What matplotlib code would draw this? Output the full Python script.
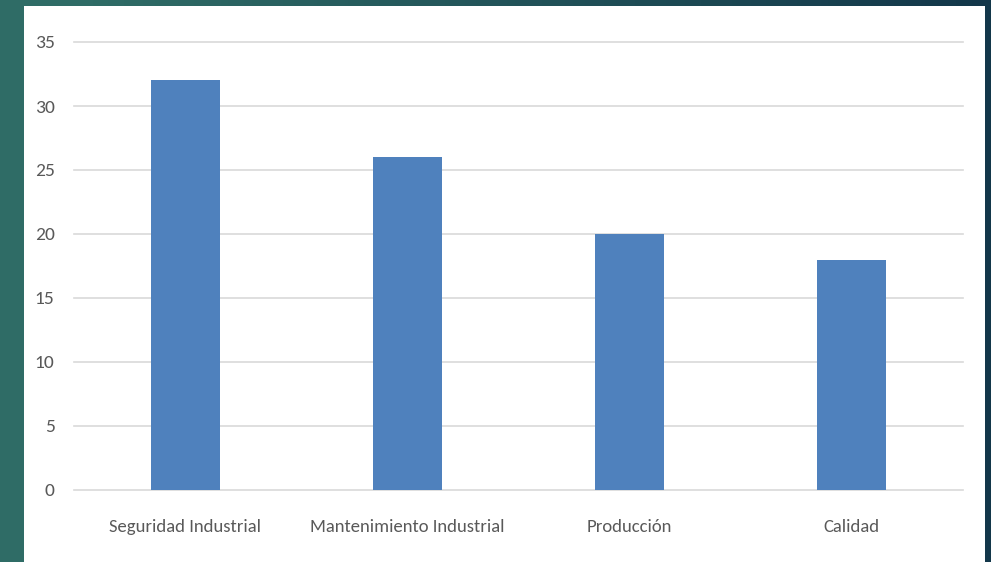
import matplotlib
matplotlib.use("Agg")
import matplotlib.pyplot as plt
import numpy as np
from matplotlib.patches import Rectangle

categories = ["Seguridad Industrial", "Mantenimiento Industrial", "Producción", "Calidad"]
values = [32, 26, 20, 18]
yticks = [0, 5, 10, 15, 20, 25, 30, 35]

plt.rcParams["font.family"] = ["Carlito", "DejaVu Sans"]

W, H = 991, 562
fig = plt.figure(figsize=(W / 100, H / 100), dpi=100)

# background gradient
bg = fig.add_axes([0, 0, 1, 1], zorder=-10)
bg.axis("off")
xs = np.linspace(0, 1, 256)
ys = np.linspace(0, 1, 64)
X, Y = np.meshgrid(xs, ys)
t = np.clip(1.1 * X - 0.1, 0, 1)
c0 = np.array([0x2f, 0x6c, 0x66]) / 255
c1 = np.array([0x13, 0x37, 0x4a]) / 255
img = c0[None, None, :] * (1 - t[..., None]) + c1[None, None, :] * t[..., None]
bg.imshow(img, aspect="auto", extent=[0, 1, 0, 1], origin="upper")
bg.set_xlim(0, 1); bg.set_ylim(0, 1)
bg.add_patch(Rectangle((24 / W, 0), (985 - 24) / W, (H - 6) / H,
                       facecolor="white", edgecolor="none", transform=bg.transAxes))

ax = fig.add_axes([74 / W, 72 / H, (963 - 74) / W, (490 - 42) / H])
ax.set_facecolor("none")
x = np.arange(len(categories))
ax.bar(x, values, width=0.31, color="#4f81bd", zorder=3)
ax.set_xlim(-0.5, len(categories) - 0.5)
ax.set_ylim(0, 35)
ax.set_yticks(yticks)
ax.set_yticklabels([str(v) for v in yticks])
ax.set_xticks(x)
ax.set_xticklabels(categories)
ax.grid(axis="y", color="#d9d9d9", linewidth=1.2, zorder=0)
for gl in ax.get_ygridlines():
    gl.set_clip_on(False)
for s in ax.spines.values():
    s.set_visible(False)
ax.tick_params(axis="both", length=0, colors="#595959", labelsize=13.4)
ax.tick_params(axis="y", labelsize=14, pad=14)
ax.tick_params(axis="x", pad=21)

fig.savefig("out.png", dpi=100)
